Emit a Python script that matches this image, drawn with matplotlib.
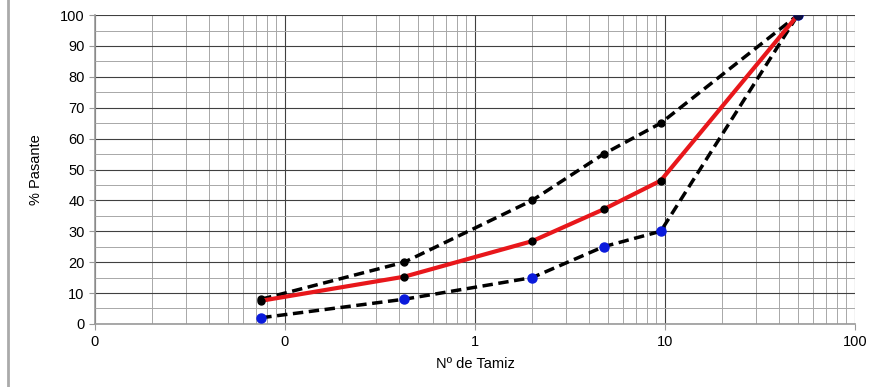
import numpy as np
import matplotlib.pyplot as plt
from matplotlib.ticker import FixedLocator, FuncFormatter, LogLocator, MultipleLocator
from matplotlib.lines import Line2D

plt.rcParams['font.family'] = ['Liberation Sans', 'DejaVu Sans']

# sieve openings (mm) and % passing
tamiz = [0.075, 0.425, 2.0, 4.75, 9.5, 50]
limite_sup = [8, 20, 40, 55, 65, 100]
muestra = [7.5, 15.3, 26.8, 37.1, 46.4, 100]
limite_inf = [2, 8, 15, 25, 30, 100]
xticks = [0.01, 0.1, 1, 10, 100]

fig = plt.figure(figsize=(8.76, 3.87), dpi=100)
ax = fig.add_axes([0.1084, 0.163, 0.8676, 0.798])

ax.plot(tamiz, limite_sup, color='black', lw=2.5, ls=(0, (3, 1.6)),
        marker='o', ms=5, mfc='black', mec='black', zorder=3)
ax.plot(tamiz, limite_inf, color='black', lw=2.5, ls=(0, (3, 1.6)),
        marker='o', ms=6.5, mfc='#0a1adc', mec='#0a1adc', zorder=3)
ax.plot(tamiz, muestra, color='#e8171b', lw=3, marker='o', ms=5,
        mfc='black', mec='black', zorder=4)
ax.plot([tamiz[-1]], [100], 'o', color='#0d1040', ms=6, zorder=5)

ax.set_xscale('log')
ax.set_xlim(0.01, 100)
ax.set_ylim(0, 100)
ax.xaxis.set_major_locator(FixedLocator(xticks))
ax.xaxis.set_major_formatter(FuncFormatter(lambda v, p: f'{v:.0f}'))
ax.xaxis.set_minor_locator(LogLocator(base=10, subs=np.arange(2, 10)))
ax.xaxis.set_minor_formatter(FuncFormatter(lambda v, p: ''))
ax.yaxis.set_major_locator(MultipleLocator(10))
ax.yaxis.set_minor_locator(MultipleLocator(5))

ax.grid(True, which='major', color='#404040', lw=0.8)
ax.grid(True, which='minor', color='#a8a8a8', lw=0.7)
ax.set_axisbelow(True)

for s in ['top', 'right']:
    ax.spines[s].set_visible(False)
for s in ['left', 'bottom']:
    ax.spines[s].set_color('#999999')
    ax.spines[s].set_linewidth(1.2)

ax.tick_params(axis='both', which='major', labelsize=10.5, colors='#999999',
               labelcolor='black', length=4)
ax.tick_params(axis='both', which='minor', length=0)
ax.tick_params(axis='x', pad=4)

ax.set_xlabel('Nº de Tamiz', fontsize=10.5, labelpad=6)
ax.set_ylabel('% Pasante', fontsize=10.5, labelpad=12)

fig.add_artist(Line2D([0.009, 0.009], [0, 1], color='#aaaaaa', lw=2,
                      transform=fig.transFigure))

fig.savefig('out.png', dpi=100)
